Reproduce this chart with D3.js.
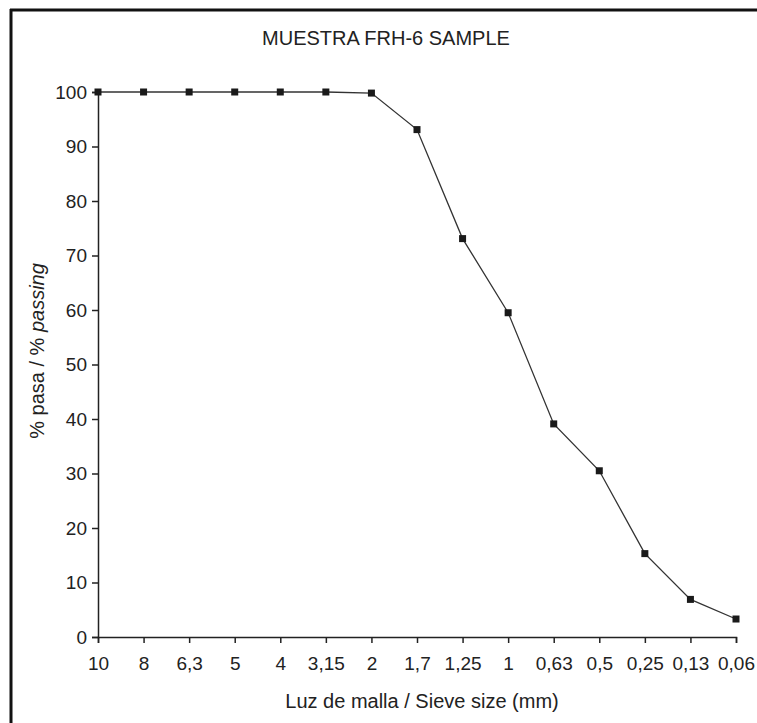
<!DOCTYPE html>
<html>
<head>
<meta charset="utf-8">
<script src="https://cdn.jsdelivr.net/npm/d3@7"></script>
<style>
body { margin: 0; background: #fff; }
svg text { font-family: "Liberation Sans", Arial, sans-serif; fill: #222; }
</style>
</head>
<body>
<div id="chart"></div>
<script>
// tamices y porcentaje que pasa
var sieves = ["10", "8", "6,3", "5", "4", "3,15", "2", "1,7", "1,25", "1", "0,63", "0,5", "0,25", "0,13", "0,06"];
var passing = [100, 100, 100, 100, 100, 100, 99.8, 93.1, 73.1, 59.5, 39.1, 30.5, 15.3, 6.9, 3.3];
var yTicks = [0, 10, 20, 30, 40, 50, 60, 70, 80, 90, 100];

var width = 757, height = 723;
var margin = {top: 92, right: 21, bottom: 86, left: 98};

var svg = d3.select("#chart").append("svg")
    .attr("width", width)
    .attr("height", height);

// marco (solo arriba e izquierda visibles)
svg.append("line")
    .attr("x1", 10).attr("x2", width).attr("y1", 10).attr("y2", 10)
    .attr("stroke", "#111").attr("stroke-width", 3);
svg.append("line")
    .attr("x1", 11).attr("x2", 11).attr("y1", 9).attr("y2", height)
    .attr("stroke", "#111").attr("stroke-width", 3);

var x = d3.scalePoint()
    .domain(sieves)
    .range([margin.left, width - margin.right]);

var y = d3.scaleLinear()
    .domain([0, 100])
    .range([height - margin.bottom, margin.top]);

var xAxis = svg.append("g")
    .attr("transform", "translate(0," + y(0) + ")")
    .call(d3.axisBottom(x).tickSizeOuter(0).tickSize(6).tickPadding(14));

var yAxis = svg.append("g")
    .attr("transform", "translate(" + margin.left + ",0)")
    .call(d3.axisLeft(y).tickValues(yTicks).tickSizeOuter(0).tickSize(6).tickPadding(5));

[xAxis, yAxis].forEach(function(g){
    g.selectAll("path, line").attr("stroke", "#222").attr("stroke-width", 1.5);
    g.selectAll("text").attr("font-size", "19px").attr("fill", "#222");
});

// linea de la curva granulometrica
var line = d3.line()
    .x(function(d, i){ return x(sieves[i]); })
    .y(function(d){ return y(d); });

svg.append("path")
    .datum(passing)
    .attr("d", line)
    .attr("fill", "none")
    .attr("stroke", "#333")
    .attr("stroke-width", 1.3);

svg.selectAll("rect.pt")
    .data(passing)
    .enter()
    .append("rect")
    .attr("class", "pt")
    .attr("x", function(d, i){ return x(sieves[i]) - 3.5; })
    .attr("y", function(d){ return y(d) - 3.5; })
    .attr("width", 7)
    .attr("height", 7)
    .attr("fill", "#1a1a1a");

// titulos
svg.append("text")
    .attr("x", 386)
    .attr("y", 45)
    .attr("text-anchor", "middle")
    .attr("font-size", "20px")
    .text("MUESTRA FRH-6 SAMPLE");

svg.append("text")
    .attr("x", 422)
    .attr("y", 708)
    .attr("text-anchor", "middle")
    .attr("font-size", "20px")
    .text("Luz de malla / Sieve size (mm)");

var ylab = svg.append("text")
    .attr("transform", "translate(44,351) rotate(-90)")
    .attr("text-anchor", "middle")
    .attr("font-size", "20px");
ylab.append("tspan").text("% pasa / % ");
ylab.append("tspan").attr("font-style", "italic").text("passing");
</script>
</body>
</html>
